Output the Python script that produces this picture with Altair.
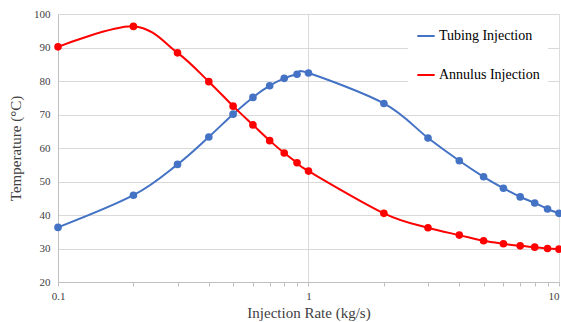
import altair as alt
import pandas as pd

rates = [0.1, 0.2, 0.3, 0.4, 0.5, 0.6, 0.7, 0.8, 0.9, 1, 2, 3, 4, 5, 6, 7, 8, 9, 10]
tubing = [36.3, 45.9, 55.1, 63.3, 70.1, 75.1, 78.6, 80.8, 82.0, 82.4,
          73.3, 63.0, 56.2, 51.4, 48.0, 45.4, 43.6, 41.8, 40.5]
annulus = [90.2, 96.3, 88.4, 79.8, 72.5, 66.9, 62.2, 58.5, 55.6, 53.1,
           40.5, 36.2, 34.0, 32.3, 31.4, 30.8, 30.4, 30.0, 29.8]
series = ["Tubing Injection", "Annulus Injection"]
colors = ["#4472C4", "#FF0000"]

rows = []
for r, t, a in zip(rates, tubing, annulus):
    rows.append({"rate": r, "temp": t, "series": series[0]})
    rows.append({"rate": r, "temp": a, "series": series[1]})
df = pd.DataFrame(rows)

FONT = "Liberation Serif"

x = alt.X("rate:Q",
          scale=alt.Scale(type="log", domain=[0.1, 10], nice=False),
          axis=alt.Axis(title="Injection Rate (kg/s)", values=rates, format="~g",
                        labelExpr="(datum.value == 0.1 || datum.value == 1 || datum.value == 10) ? datum.label : ''",
                        labelAlign={"condition": {"test": "datum.value == 10", "value": "right"}, "value": "center"},
                        grid=True,
                        gridOpacity={"condition": {"test": "datum.value == 1", "value": 1}, "value": 0},
                        gridColor="#d9d9d9",
                        tickSize=4, tickColor="#bfbfbf", domainColor="#bfbfbf",
                        labelFont=FONT, labelFontSize=11, labelColor="#404040",
                        labelPadding=4, labelFlush=False,
                        titleFont=FONT, titleFontSize=15, titleFontWeight="normal",
                        titleColor="#404040", titlePadding=4))
y = alt.Y("temp:Q",
          scale=alt.Scale(domain=[20, 100], nice=False, zero=False),
          axis=alt.Axis(title="Temperature (°C)", values=list(range(20, 101, 10)),
                        grid=True, gridColor="#d9d9d9", ticks=False,
                        domainColor="#bfbfbf",
                        labelFont=FONT, labelFontSize=11, labelColor="#404040",
                        labelPadding=8,
                        titleFont=FONT, titleFontSize=15, titleFontWeight="normal",
                        titleColor="#404040", titlePadding=10))
color = alt.Color("series:N",
                  scale=alt.Scale(domain=series, range=colors),
                  legend=alt.Legend(title=None, orient="none", legendX=350, legendY=4,
                                    symbolType="stroke", symbolStrokeWidth=2, symbolSize=300,
                                    labelFont=FONT, labelFontSize=14, labelColor="#000000",
                                    rowPadding=22, fillColor="white", padding=8,
                                    labelOffset=3))

chart = alt.Chart(df).mark_line(
    interpolate="cardinal", strokeWidth=2,
    point=alt.OverlayMarkDef(filled=True, size=58, opacity=1)
).encode(x=x, y=y, color=color, order="rate:Q").properties(
    width=501, height=268,
    autosize=alt.AutoSizeParams(type="none"),
    padding={"left": 58, "top": 14, "right": 2, "bottom": 40},
).configure_view(stroke=None).configure(background="white")

chart.save("out.html", embed_options={"renderer": "svg", "actions": False})
